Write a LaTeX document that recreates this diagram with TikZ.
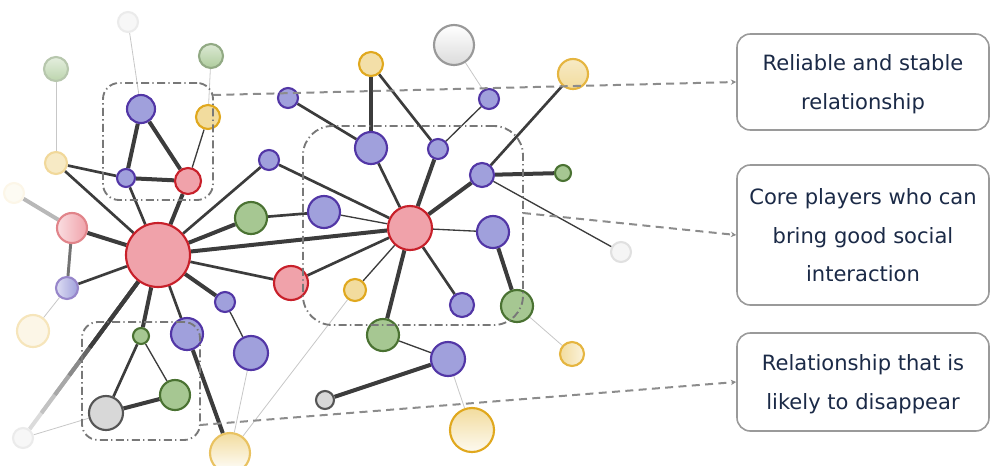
\documentclass[tikz,border=0pt]{standalone}
\usepackage{fontspec}
\newfontfamily\vfont{DejaVu Sans}
\usetikzlibrary{backgrounds,arrows.meta}
\definecolor{redF}{HTML}{F0A2AA}
\definecolor{redD}{HTML}{C8202A}
\definecolor{bluF}{HTML}{A0A0DC}
\definecolor{bluD}{HTML}{5236A6}
\definecolor{grnF}{HTML}{A6C792}
\definecolor{grnD}{HTML}{4A7232}
\definecolor{yelF}{HTML}{F2DC9E}
\definecolor{yelD}{HTML}{E0A81E}
\definecolor{gryF}{HTML}{D8D8D8}
\definecolor{gryD}{HTML}{555555}
\definecolor{edgeC}{HTML}{3C3C3C}
\definecolor{txtC}{HTML}{1B2A47}
\definecolor{boxC}{HTML}{9A9A9A}
\definecolor{grpC}{HTML}{787878}
\tikzset{
  nd/.style={circle, inner sep=0pt, line width=1.6pt, minimum size=#1*1.5pt},
  rn/.style={nd=#1, fill=redF, draw=redD},
  bn/.style={nd=#1, fill=bluF, draw=bluD},
  gn/.style={nd=#1, fill=grnF, draw=grnD},
  yn/.style={nd=#1, fill=yelF, draw=yelD},
  kn/.style={nd=#1, fill=gryF, draw=gryD},
  thk/.style={draw=edgeC, line width=3pt},
  med/.style={draw=edgeC, line width=2pt},
  thn/.style={draw=edgeC, line width=1pt},
  fnt/.style={draw=black!22, line width=0.6pt},
  grp/.style={draw=grpC, line width=1.4pt, dash pattern=on 6pt off 2.5pt on 1pt off 2.5pt, rectangle, inner sep=0pt},
  link/.style={draw=black!45, line width=1.5pt, dash pattern=on 6pt off 4pt, -{Stealth[length=4pt,width=4pt]}},
  tbox/.style={draw=boxC, line width=1.2pt, rounded corners=10pt, fill=white, minimum width=189pt, minimum height=#1, align=center, text=txtC, font=\vfont\fontsize{15.8}{29.2}\selectfont, inner sep=0pt, text depth=-4.5pt}
}
\begin{document}
\begin{tikzpicture}[x=0.75pt,y=-0.75pt]
\useasboundingbox (0,0) rectangle (996,465);
% ---- nodes (left cluster)
\node[nd=10, fill=black!3, draw=black!8] (W1) at (128,22) {};
\node[nd=12, top color=grnF!30, bottom color=grnF!75, draw=grnD!40] (G1) at (56,69) {};
\node[nd=12, top color=grnF!40, bottom color=grnF!90, draw=grnD!60] (G2) at (211,56) {};
\node[bn=14] (B1) at (141,109) {};
\node[yn=12] (Y1) at (208,117) {};
\node[bn=9] (B2) at (126,178) {};
\node[rn=13] (R1) at (188,181) {};
\node[nd=11, fill=yelF!60, draw=yelD!45] (Y2) at (56,163) {};
\node[nd=10, fill=yelF!12, draw=yelD!10] (F1) at (14,193) {};
\node[nd=15, left color=redF!35, right color=redF, draw=redD!55] (R2) at (72,228) {};
\node[rn=32] (R0) at (158,255) {};
\node[nd=11, left color=bluF!35, right color=bluF, draw=bluD!60] (B3) at (67,288) {};
\node[nd=16, fill=yelF!25, draw=yelD!30] (Y3) at (33,331) {};
\node[bn=10] (B4) at (269,160) {};
\node[gn=16] (G3) at (251,218) {};
\node[bn=16] (B5) at (324,212) {};
\node[rn=17] (R3) at (291,283) {};
\node[bn=10] (B6) at (225,302) {};
\node[gn=8] (G4) at (141,336) {};
\node[bn=16] (B7) at (187,334) {};
\node[bn=17] (B8) at (251,353) {};
\node[kn=17] (K1) at (106,413) {};
\node[gn=15] (G5) at (175,395) {};
\node[nd=10, fill=black!3, draw=black!8] (W2) at (23,438) {};
\node[nd=20, top color=yelF, bottom color=white, draw=yelD!70] (Y4) at (230,453) {};
% ---- nodes (right cluster)
\node[bn=10] (B9) at (288,98) {};
\node[yn=12, fill=yelF!90] (Y5) at (371,64) {};
\node[nd=20, top color=white, bottom color=black!14, draw=black!40] (W3) at (454,45) {};
\node[bn=10] (B10) at (489,99) {};
\node[nd=15, top color=yelF!60, bottom color=yelF, draw=yelD!85] (Y6) at (573,74) {};
\node[bn=16] (B11) at (371,148) {};
\node[bn=10] (B12) at (438,149) {};
\node[bn=12] (B13) at (482,175) {};
\node[gn=8] (G6) at (563,173) {};
\node[rn=22] (RC) at (410,228) {};
\node[bn=16] (B14) at (493,232) {};
\node[nd=10, fill=black!4, draw=black!12] (W4) at (621,252) {};
\node[yn=11] (Y7) at (355,290) {};
\node[bn=12] (B15) at (462,305) {};
\node[gn=16] (G7) at (517,306) {};
\node[gn=16] (G8) at (383,335) {};
\node[bn=17] (B16) at (448,359) {};
\node[nd=12, left color=yelF, right color=yelF!35, draw=yelD!85] (Y8) at (572,354) {};
\node[kn=9] (K2) at (325,400) {};
\node[nd=22, top color=yelF, bottom color=yelF!15, draw=yelD] (Y9) at (472,430) {};
% ---- edges
\begin{scope}[on background layer]
\draw[fnt] (W1) -- (B1);
\draw[fnt] (G1) -- (Y2);
\draw[fnt] (G2) -- (Y1);
\draw[thk] (B1) -- (B2);
\draw[thk] (B1) -- (R1);
\draw[thn] (Y1) -- (R1);
\draw[thk] (B2) -- (R1);
\draw[med] (Y2) -- (B2);
\draw[med] (Y2) -- (R0);
\draw[med] (B2) -- (R0);
\draw[thk] (R1) -- (R0);
\draw[draw=black!28, line width=3pt] (F1) -- (R2);
\draw[thk] (R2) -- (R0);
\draw[draw=black!55, line width=2.2pt] (R2) -- (B3);
\draw[med] (B3) -- (R0);
\draw[fnt] (B3) -- (Y3);
\draw[med] (R0) -- (B4);
\draw[thk] (R0) -- (G3);
\draw[med] (G3) -- (B5);
\draw[thk] (R0) -- (RC);
\draw[med] (R0) -- (R3);
\draw[med] (R3) -- (RC);
\draw[thk] (R0) -- (B6);
\draw[thn] (B6) -- (B8);
\draw[med] (R0) -- (B7);
\draw[thk] (B7) -- (Y4);
\draw[thk] (R0) -- (G4);
\draw[med] (G4) -- (K1);
\draw[thn] (G4) -- (G5);
\draw[thk] (K1) -- (G5);
\draw[draw=black!14, line width=3pt] (R0) -- (W2);
\draw[draw=black!24, line width=3pt, shorten >=15pt] (R0) -- (W2);
\draw[draw=black!34, line width=3pt, shorten >=32pt] (R0) -- (W2);
\draw[draw=black!46, line width=3pt, shorten >=50pt] (R0) -- (W2);
\draw[draw=black!60, line width=3pt, shorten >=64pt] (R0) -- (W2);
\draw[draw=edgeC, line width=3pt, shorten >=76pt] (R0) -- (W2);
\draw[fnt] (W2) -- (K1);
\draw[fnt] (B8) -- (Y4);
\draw[fnt] (Y7) -- (Y4);
\draw[med] (B9) -- (B11);
\draw[thk] (Y5) -- (B11);
\draw[med] (Y5) -- (B12);
\draw[fnt] (W3) -- (B10);
\draw[thn] (B10) -- (B12);
\draw[med] (Y6) -- (B13);
\draw[thk] (B13) -- (G6);
\draw[thn] (B13) -- (W4);
\draw[thk] (B13) -- (RC);
\draw[thk] (B12) -- (RC);
\draw[med] (B11) -- (RC);
\draw[med] (B4) -- (RC);
\draw[thn] (B5) -- (RC);
\draw[thn] (RC) -- (B14);
\draw[thk] (B14) -- (G7);
\draw[fnt] (G7) -- (Y8);
\draw[med] (RC) -- (B15);
\draw[thk] (RC) -- (G8);
\draw[thn] (RC) -- (Y7);
\draw[thn] (G8) -- (B16);
\draw[thk] (B16) -- (K2);
\draw[fnt] (B16) -- (Y9);
\end{scope}
% ---- group boxes
\node[grp, rounded corners=12pt, minimum width=82.5pt, minimum height=87.75pt] (gA) at (158,141.5) {};
\node[grp, rounded corners=22pt, minimum width=165pt, minimum height=149.25pt] (gB) at (413,225.5) {};
\node[grp, rounded corners=12pt, minimum width=88.5pt, minimum height=88.5pt] (gC) at (141,381) {};
% ---- text boxes
\node[tbox=72pt] (t1) at (863,82) {Reliable and stable\\relationship};
\node[tbox=105pt] (t2) at (863,235) {Core players who can\\bring good social\\interaction};
\node[tbox=73.5pt] (t3) at (863,382) {Relationship that is\\likely to disappear};
% ---- connectors
\coordinate (sA) at (213,95);
\coordinate (sB) at (523,213);
\coordinate (sC) at (200,425);
\draw[link] (sA) -- (t1.west);
\draw[link] (sB) -- (t2.west);
\draw[link] (sC) -- (t3.west);
\end{tikzpicture}
\end{document}
